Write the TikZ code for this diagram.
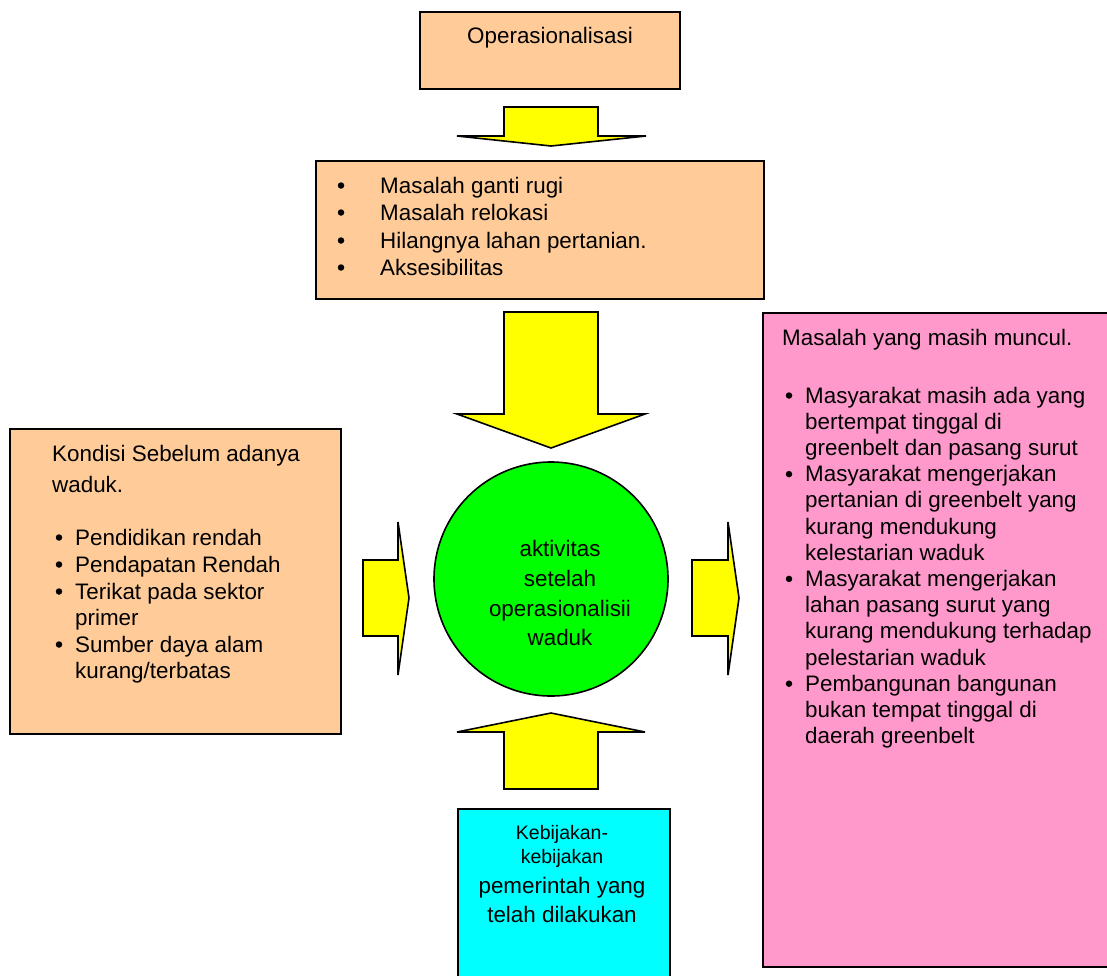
\documentclass[tikz,border=0pt]{standalone}
\usepackage{fontspec}
\setmainfont{Liberation Sans}
\definecolor{peach}{HTML}{FFCC99}
\definecolor{pinkbox}{HTML}{FF99CC}
\definecolor{cyanbox}{HTML}{00FFFF}
\definecolor{greencirc}{HTML}{00FF00}
\definecolor{yel}{HTML}{FFFF00}
\begin{document}
\begin{tikzpicture}[x=1pt,y=-1pt,
  box/.style={draw=black, line width=1.6pt, inner sep=0pt, anchor=north west},
  blockarrow/.style={draw=black, fill=yel, line width=1.6pt, line join=miter},
  txt/.style={anchor=base west, inner sep=0pt, font=\fontsize{22.4}{27}\selectfont},
  ctxt/.style={anchor=base, inner sep=0pt, font=\fontsize{22.4}{27}\selectfont},
  stxt/.style={anchor=base, inner sep=0pt, font=\fontsize{19.5}{24}\selectfont},
  bul/.style={circle, fill=black, inner sep=0pt, minimum size=6.5pt},
]
\useasboundingbox (0,0) rectangle (1107,975);
\clip (0,0) rectangle (1107,975);

% boxes
\node[box, fill=peach, minimum width=260pt, minimum height=77pt] (oper) at (419,11) {};
\node[box, fill=peach, minimum width=448pt, minimum height=138pt] (masalah) at (315,160) {};
\node[box, fill=peach, minimum width=331pt, minimum height=305pt] (kondisi) at (9,428) {};
\node[box, fill=pinkbox, minimum width=360pt, minimum height=654pt] (muncul) at (762,312) {};
\node[box, fill=cyanbox, minimum width=212pt, minimum height=190pt] (kebijakan) at (457,808) {};
\node[draw=black, line width=1.6pt, circle, fill=greencirc, minimum size=234pt, inner sep=0pt] (akt) at (551,579) {};

% block arrows
\draw[blockarrow] (504,107) -- (598,107) -- (598,136) -- (646,136) -- (551,146) -- (457,136) -- (504,136) -- cycle;
\draw[blockarrow] (504,312) -- (598,312) -- (598,414) -- (645,414) -- (551,448) -- (457,414) -- (504,414) -- cycle;
\draw[blockarrow] (504,789) -- (598,789) -- (598,732) -- (645,732) -- (551,713) -- (457,732) -- (504,732) -- cycle;
\draw[blockarrow] (363,560) -- (398,560) -- (398,522) -- (409,598) -- (398,675) -- (398,636) -- (363,636) -- cycle;
\draw[blockarrow] (692,560) -- (728,560) -- (728,522) -- (739,598) -- (728,675) -- (728,636) -- (692,636) -- cycle;

% top text
\node[ctxt] (t0) at (550,43) {Operasionalisasi};

% masalah box
\foreach \t/\yy [count=\i] in {Masalah ganti rugi/193, Masalah relokasi/220, Hilangnya lahan pertanian./248, Aksesibilitas/275}{
  \node[bul] (mb\i) at (341,\yy-7.5) {};
  \node[txt] (mt\i) at (380,\yy) {\t};
}

% circle text
\node[ctxt] (c1) at (560,556) {aktivitas};
\node[ctxt] (c2) at (560,586) {setelah};
\node[ctxt] (c3) at (560,616) {operasionalisii};
\node[ctxt] (c4) at (560,645) {waduk};

% left box
\node[txt] (k1) at (52,461) {Kondisi Sebelum adanya};
\node[txt] (k2) at (52,492) {waduk.};
\node[txt] (kl1) at (75,545) {Pendidikan rendah};
\node[txt] (kl2) at (75,572) {Pendapatan Rendah};
\node[txt] (kl3) at (75,599) {Terikat pada sektor};
\node[txt] (kl4) at (75,625) {primer};
\node[txt] (kl5) at (75,652) {Sumber daya alam};
\node[txt] (kl6) at (75,678) {kurang/terbatas};
\foreach \yy [count=\i] in {545,572,599,652}{
  \node[bul] (kb\i) at (59,\yy-7.5) {};
}

% right box
\node[txt] (m0) at (782,345) {Masalah yang masih muncul.};
\foreach \t [count=\i from 0] in {Masyarakat masih ada yang, bertempat tinggal di, greenbelt dan pasang surut, Masyarakat mengerjakan, pertanian di greenbelt yang, kurang mendukung, kelestarian waduk, Masyarakat mengerjakan, lahan pasang surut yang, kurang mendukung terhadap, pelestarian waduk, Pembangunan bangunan, bukan tempat tinggal di, daerah greenbelt}{
  \node[txt] (ml\i) at (805,{403+26.2*\i}) {\t};
}
\foreach \i in {0,3,7,11}{
  \node[bul] (mbu\i) at (789,{403+26.2*\i-7.5}) {};
}

% bottom box
\node[stxt] (b1) at (562,839) {Kebijakan-};
\node[stxt] (b2) at (562,863) {kebijakan};
\node[ctxt] (b3) at (562,893) {pemerintah yang};
\node[ctxt] (b4) at (562,922) {telah dilakukan};
\end{tikzpicture}
\end{document}
